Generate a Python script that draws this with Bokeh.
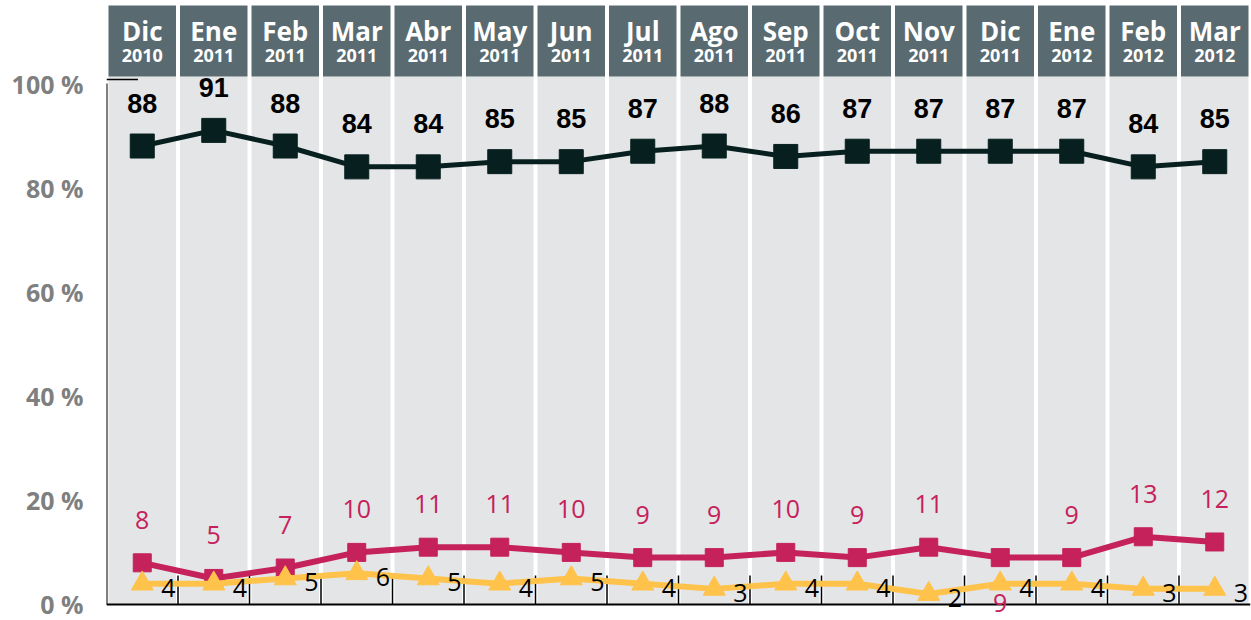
from bokeh.plotting import figure
from bokeh.models import Range1d, FixedTicker
from bokeh.core.properties import value
from bokeh.embed import file_html
from bokeh.resources import INLINE

months = ["Dic", "Ene", "Feb", "Mar", "Abr", "May", "Jun", "Jul", "Ago", "Sep",
          "Oct", "Nov", "Dic", "Ene", "Feb", "Mar"]
years = ["2010", "2011", "2011", "2011", "2011", "2011", "2011", "2011", "2011",
         "2011", "2011", "2011", "2011", "2012", "2012", "2012"]
serie_a = [88, 91, 88, 84, 84, 85, 85, 87, 88, 86, 87, 87, 87, 87, 84, 85]
serie_b = [8, 5, 7, 10, 11, 11, 10, 9, 9, 10, 9, 11, 9, 9, 13, 12]
serie_c = [4, 4, 5, 6, 5, 4, 5, 4, 3, 4, 4, 2, 4, 4, 3, 3]
y_ticks = [0, 20, 40, 60, 80, 100]
y_tick_labels = ["0 %", "20 %", "40 %", "60 %", "80 %", "100 %"]

n = len(months)
x = list(range(n))

H = 620
SC = 5.21                    # pixels per percent
Y1 = 604 / SC
Y0 = -(H - 604) / SC
upx = 1 / SC
xpx = n / 1144.0

p = figure(width=1251, height=H, x_range=Range1d(-0.5, n - 0.5), y_range=Range1d(Y0, Y1),
           output_backend="svg", toolbar_location=None, x_axis_location=None,
           min_border=0, min_border_left=106, min_border_right=1,
           min_border_top=0, min_border_bottom=0)
p.outline_line_color = None
p.grid.visible = False
p.background_fill_color = "white"
p.border_fill_color = "white"

ya = p.yaxis[0]
ya.ticker = FixedTicker(ticks=y_ticks)
ya.major_label_overrides = {t: l for t, l in zip(y_ticks, y_tick_labels)}
ya.axis_line_color = None
ya.major_tick_line_color = None
ya.minor_tick_line_color = None
ya.major_tick_out = 0
ya.major_tick_in = 0
ya.major_label_standoff = 23
ya.major_label_text_font = "Open Sans"
ya.major_label_text_font_style = "bold"
ya.major_label_text_font_size = "25px"
ya.major_label_text_color = "#7f7f7f"

gap = 2 * xpx
header_bottom = (604 - 76) / SC
header_top = (604 - 5) / SC
# gray columns
p.quad(left=[i - 0.5 + gap for i in x], right=[i + 0.5 - gap for i in x],
       bottom=0, top=header_bottom, fill_color="#e4e5e7", line_color=None)
# header boxes
p.quad(left=[i - 0.5 + gap for i in x], right=[i + 0.5 - gap for i in x],
       bottom=header_bottom, top=header_top, fill_color="#596a70", line_color=None)
p.text(x=x, y=[(604 - 30) / SC] * n, text=months, text_align="center", text_baseline="middle",
       text_font=value("Open Sans"), text_font_style="bold", text_font_size="26px",
       text_color="white")
p.text(x=x, y=[(604 - 55) / SC] * n, text=years, text_align="center", text_baseline="middle",
       text_font=value("Open Sans"), text_font_style="bold", text_font_size="18px",
       text_color="white")

# axes lines and ticks
p.segment(x0=[-0.5], y0=[0], x1=[n - 0.5], y1=[0], line_color="black", line_width=2)
p.segment(x0=[-0.5], y0=[0], x1=[-0.5], y1=[100], line_color="black", line_width=2)
p.segment(x0=[-0.5], y0=[(604 - 79) / SC], x1=[-0.06], y1=[(604 - 79) / SC],
          line_color="black", line_width=1.5)
p.segment(x0=[i + 0.5 for i in x[:-1]], y0=[0] * (n - 1),
          x1=[i + 0.5 for i in x[:-1]], y1=[29 * upx] * (n - 1),
          line_color="black", line_width=1.5)

# series a
col_a = "#07201f"
p.line(x, serie_a, line_color=col_a, line_width=5)
p.scatter(x, serie_a, marker="square", size=24, fill_color=col_a, line_color=col_a)
p.text(x=x, y=[v + 43 * upx for v in serie_a], text=[str(v) for v in serie_a],
       text_align="center", text_baseline="middle", text_font=value("Liberation Sans"),
       text_font_style="bold", text_font_size="27px", text_color="black")

# series b
col_b = "#c5215a"
p.line(x, serie_b, line_color=col_b, line_width=6)
p.scatter(x, serie_b, marker="square", size=18, fill_color=col_b, line_color=col_b)
yb = [v + 43 * upx for v in serie_b]
yb[12] = serie_b[12] - 45 * upx
p.text(x=x, y=yb, text=[str(v) for v in serie_b],
       text_align="center", text_baseline="middle", text_font=value("Open Sans"),
       text_font_size="25px", text_color=col_b)

# series c
col_c = "#ffc24b"
p.line(x, serie_c, line_color=col_c, line_width=6)
p.scatter(x, serie_c, marker="triangle", size=22, fill_color=col_c, line_color=col_c)
p.text(x=[i + 19 * xpx for i in x], y=[v - 4 * upx for v in serie_c],
       text=[str(v) for v in serie_c],
       text_align="left", text_baseline="middle", text_font=value("Open Sans"),
       text_font_size="25px", text_color="black")

open("out.html", "w").write(file_html(p, INLINE))
